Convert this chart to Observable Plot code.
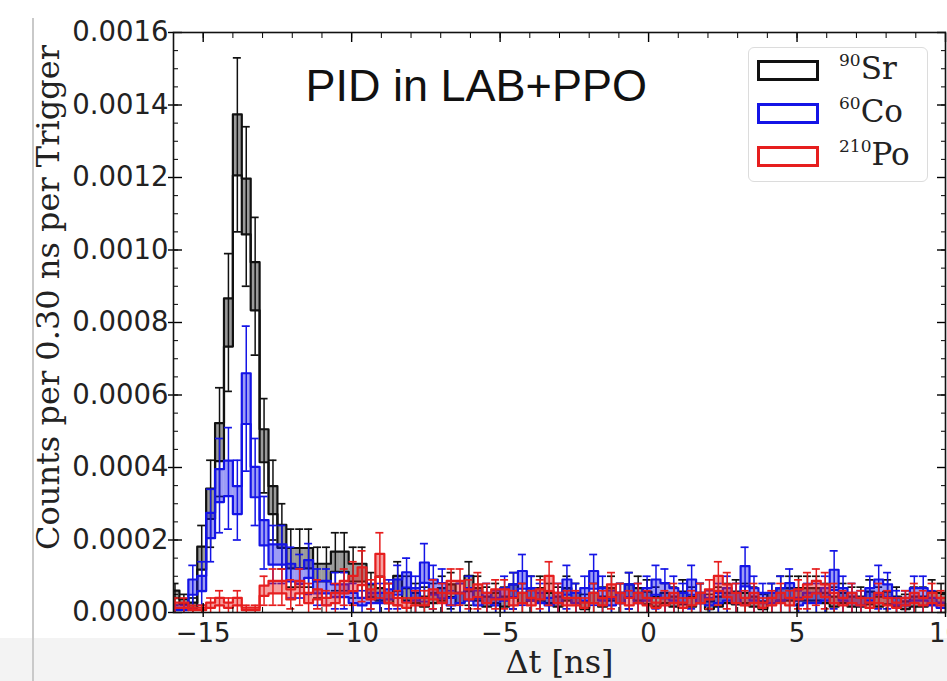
<!DOCTYPE html>
<html><head><meta charset="utf-8">
<script src="https://cdn.jsdelivr.net/npm/d3@7"></script>
<script src="https://cdn.jsdelivr.net/npm/@observablehq/plot@0.6"></script>
<style>
html,body{margin:0;padding:0;background:#fff;}
body{width:947px;height:681px;overflow:hidden;position:relative;}
#band{position:absolute;left:0;top:638px;width:947px;height:43px;background:#f3f3f3;}
#vline{position:absolute;left:32px;top:18px;width:2px;height:663px;background:#c9c9c9;}
#chart{position:absolute;left:0;top:0;}
#legend{position:absolute;left:748px;top:47px;width:180px;height:135px;border:1.5px solid #dcdcdc;border-radius:6px;background:rgba(255,255,255,0.85);box-sizing:border-box;}
.row{position:absolute;left:8px;width:170px;height:40px;}
.sw{position:absolute;left:0;top:0;width:56px;height:15px;border:3px solid;background:#fff;}
.lab{position:absolute;left:82px;top:-7px;font-family:"DejaVu Serif";font-size:31px;line-height:31px;white-space:nowrap;color:#222;}
.lab .sup{font-size:17px;position:relative;top:-13px;}
</style></head>
<body>
<div id="band"></div>
<div id="vline"></div>
<div id="chart"></div>
<div id="legend"></div>
<script>
// ---- data: bin grid (Δt in ns) ----
const binStart = -16.1;
const binWidth = 0.30;

// ---- 90Sr ----
const sr90 = [0.00005,0.00003,0.00002,0.00015,0.00030,0.00047,0.00080,0.00129,0.00112,0.00090,
 0.00046,0.00031,0.00021,0.00015,0.00015,0.00015,0.00011,0.00011,0.00014,0.00014,
 0.00011,0.00011,0.00006,0.00005,0.00004,0.00008,0.00005,0.00004,0.00003,0.00004,
 0.00005,0.00006,0.00004,0.00008,0.00005,0.00003,0.00004,0.00003,0.00006,0.00004,
 0.00005,0.00005,0.00004,0.00003,0.00005,0.00004,0.00002,0.00004,0.00003,0.00005,
 0.00004,0.00006,0.00005,0.00004,0.00003,0.00004,0.00003,0.00004,0.00003,0.00004,
 0.00002,0.00003,0.00004,0.00004,0.00004,0.00003,0.00002,0.00004,0.00005,0.00005,
 0.00005,0.00005,0.00005,0.00004,0.00003,0.00004,0.00003,0.00003,0.00004,0.00003,
 0.00004,0.00003,0.00002,0.00003,0.00003,0.00004,0.00004];
const sr90Err = [0.00003,0.00002,0.00002,0.00009,0.00012,0.00015,0.00019,0.00024,0.00022,0.00019,
 0.00013,0.00011,0.00009,0.00008,0.00008,0.00008,0.00007,0.00007,0.00008,0.00008,
 0.00007,0.00007,0.00005,0.00005,0.00004,0.00006,0.00005,0.00004,0.00004,0.00004,
 0.00005,0.00005,0.00004,0.00006,0.00005,0.00004,0.00004,0.00004,0.00005,0.00004,
 0.00005,0.00005,0.00004,0.00004,0.00005,0.00004,0.00003,0.00004,0.00004,0.00005,
 0.00004,0.00005,0.00005,0.00005,0.00004,0.00004,0.00004,0.00005,0.00004,0.00004,
 0.00003,0.00004,0.00004,0.00005,0.00004,0.00004,0.00003,0.00004,0.00005,0.00005,
 0.00005,0.00005,0.00005,0.00004,0.00004,0.00004,0.00004,0.00004,0.00005,0.00004,
 0.00005,0.00004,0.00003,0.00004,0.00004,0.00005,0.00004];

// ---- 60Co ----
const co60 = [0.00001,0.00001,0.00007,0.00008,0.00024,0.00035,0.00037,0.00031,0.00059,0.00036,
 0.00022,0.00016,0.00016,0.00011,0.00010,0.00012,0.00007,0.00007,0.00006,0.00006,
 0.00004,0.00003,0.00004,0.00004,0.00005,0.00007,0.00009,0.00005,0.00011,0.00007,
 0.00006,0.00003,0.00004,0.00005,0.00003,0.00004,0.00003,0.00005,0.00006,0.00009,
 0.00005,0.00004,0.00003,0.00004,0.00007,0.00004,0.00005,0.00009,0.00005,0.00003,
 0.00004,0.00006,0.00004,0.00005,0.00007,0.00006,0.00005,0.00004,0.00007,0.00004,
 0.00003,0.00004,0.00005,0.00004,0.00010,0.00005,0.00004,0.00004,0.00005,0.00006,
 0.00003,0.00004,0.00004,0.00005,0.00009,0.00005,0.00004,0.00003,0.00005,0.00007,
 0.00006,0.00003,0.00003,0.00005,0.00005,0.00003,0.00002];
const co60Err = [0.00001,0.00001,0.00006,0.00006,0.00010,0.00013,0.00014,0.00011,0.00020,0.00012,
 0.00010,0.00008,0.00008,0.00007,0.00006,0.00007,0.00005,0.00005,0.00005,0.00005,
 0.00004,0.00003,0.00004,0.00004,0.00004,0.00006,0.00006,0.00005,0.00008,0.00006,
 0.00006,0.00003,0.00004,0.00005,0.00003,0.00004,0.00003,0.00005,0.00005,0.00007,
 0.00005,0.00004,0.00003,0.00004,0.00006,0.00004,0.00005,0.00007,0.00005,0.00003,
 0.00004,0.00005,0.00004,0.00005,0.00006,0.00006,0.00005,0.00004,0.00006,0.00004,
 0.00003,0.00004,0.00005,0.00004,0.00008,0.00005,0.00004,0.00004,0.00005,0.00006,
 0.00003,0.00004,0.00004,0.00005,0.00008,0.00005,0.00004,0.00003,0.00005,0.00006,
 0.00005,0.00003,0.00003,0.00005,0.00005,0.00003,0.00002];

// ---- 210Po ----
const po210 = [0.00002,0.00002,0.00001,0.00001,0.00002,0.00003,0.00002,0.00003,0.00001,0.00001,
 0.00006,0.00007,0.00007,0.00005,0.00007,0.00004,0.00005,0.00003,0.00004,0.00007,
 0.00008,0.00010,0.00005,0.00013,0.00004,0.00003,0.00002,0.00003,0.00003,0.00005,
 0.00004,0.00007,0.00007,0.00005,0.00006,0.00004,0.00005,0.00005,0.00003,0.00004,
 0.00003,0.00005,0.00008,0.00004,0.00003,0.00003,0.00002,0.00004,0.00003,0.00006,
 0.00004,0.00003,0.00004,0.00003,0.00002,0.00003,0.00004,0.00002,0.00003,0.00004,
 0.00005,0.00008,0.00006,0.00004,0.00003,0.00004,0.00002,0.00003,0.00004,0.00003,
 0.00005,0.00006,0.00007,0.00006,0.00004,0.00003,0.00004,0.00003,0.00002,0.00004,
 0.00003,0.00002,0.00003,0.00004,0.00003,0.00004,0.00003];
const po210Err = [0.00002,0.00002,0.00001,0.00001,0.00002,0.00003,0.00002,0.00003,0.00001,0.00001,
 0.00004,0.00005,0.00005,0.00004,0.00005,0.00004,0.00004,0.00003,0.00004,0.00005,
 0.00006,0.00007,0.00004,0.00009,0.00004,0.00003,0.00002,0.00003,0.00003,0.00004,
 0.00004,0.00005,0.00005,0.00004,0.00005,0.00004,0.00004,0.00004,0.00003,0.00004,
 0.00003,0.00004,0.00006,0.00004,0.00003,0.00003,0.00002,0.00004,0.00003,0.00005,
 0.00004,0.00003,0.00004,0.00003,0.00002,0.00003,0.00004,0.00002,0.00003,0.00004,
 0.00004,0.00006,0.00005,0.00004,0.00003,0.00004,0.00002,0.00003,0.00004,0.00003,
 0.00004,0.00005,0.00005,0.00005,0.00004,0.00003,0.00004,0.00003,0.00002,0.00004,
 0.00003,0.00002,0.00003,0.00004,0.00003,0.00004,0.00003];

// ---- labels / ticks ----
const seriesNames = ["Sr", "Co", "Po"];
const seriesMass = ["90", "60", "210"];
const seriesColors = ["#111111", "#1414e6", "#e61e1e"];
const xTicks = [-15, -10, -5, 0, 5, 10];
const yTicks = [0, 0.0002, 0.0004, 0.0006, 0.0008, 0.0010, 0.0012, 0.0014, 0.0016];
const title = "PID in LAB+PPO";
const yLabel = "Counts per 0.30 ns per Trigger";
const xLabel = "Δt [ns]";

const xMinor = d3.range(-16, 10.001, 1);
const yMinor = d3.range(0, 32.5, 1).map(i => i * 0.00005);

const valueArrays = [sr90, co60, po210];
const errArrays = [sr90Err, co60Err, po210Err];

function bins(values, errs) {
  return values.map((v, i) => {
    const e = errs[i];
    return {
      x1: binStart + i * binWidth,
      x2: binStart + (i + 1) * binWidth,
      xc: binStart + (i + 0.5) * binWidth,
      v, e,
      lo: v - 0.35 * e,
      hi: v + 0.35 * e
    };
  });
}
function steps(b, key) {
  const pts = b.map(d => ({x: d.x1, y: d[key]}));
  pts.push({x: b[b.length - 1].x2, y: b[b.length - 1][key]});
  return pts;
}

const marks = [];
valueArrays.forEach((vals, s) => {
  const c = seriesColors[s];
  const b = bins(vals, errArrays[s]);
  const cap = binWidth * 0.45;
  marks.push(
    Plot.rectY(b, {x1: "x1", x2: "x2", y1: "lo", y2: "hi", fill: c, fillOpacity: 0.42, clip: true}),
    Plot.ruleX(b, {x: "xc", y1: d => Math.max(0, d.v - d.e), y2: d => d.v + d.e, stroke: c, strokeWidth: 1.5, clip: true}),
    Plot.ruleY(b, {x1: d => d.xc - cap, x2: d => d.xc + cap, y: d => d.v + d.e, stroke: c, strokeWidth: 1.7, clip: true}),
    Plot.ruleY(b.filter(d => d.v - d.e > 0), {x1: d => d.xc - cap, x2: d => d.xc + cap, y: d => d.v - d.e, stroke: c, strokeWidth: 1.7, clip: true}),
    Plot.line(steps(b, "hi"), {x: "x", y: "y", curve: "step-after", stroke: c, strokeWidth: 2.2, clip: true}),
    Plot.line(steps(b, "lo"), {x: "x", y: "y", curve: "step-after", stroke: c, strokeWidth: 2.2, clip: true})
  );
});

const chart = Plot.plot({
  width: 947,
  height: 681,
  marginLeft: 173,
  marginRight: 2,
  marginTop: 32,
  marginBottom: 69,
  style: {background: "transparent", overflow: "visible"},
  x: {domain: [-16, 10]},
  y: {domain: [0, 0.0016]},
  marks: [
    ...marks,
    // major ticks (in-out) and minor ticks (in)
    Plot.axisY(yTicks, {anchor: "left", tickSize: 14, dx: 9, fill: "none", label: null, strokeWidth: 1.4}),
    Plot.axisY(yMinor, {anchor: "left", tickSize: 5, dx: 5, fill: "none", label: null, strokeWidth: 1}),
    Plot.axisY(yTicks, {anchor: "right", tickSize: 9, dx: -9, fill: "none", label: null, strokeWidth: 1.4}),
    Plot.axisY(yMinor, {anchor: "right", tickSize: 5, dx: -5, fill: "none", label: null, strokeWidth: 1}),
    Plot.axisX(xTicks, {anchor: "bottom", tickSize: 14, dy: -9, fill: "none", label: null, strokeWidth: 1.4}),
    Plot.axisX(xMinor, {anchor: "bottom", tickSize: 5, dy: -5, fill: "none", label: null, strokeWidth: 1}),
    Plot.axisX(xTicks, {anchor: "top", tickSize: 9, dy: 9, fill: "none", label: null, strokeWidth: 1.4}),
    Plot.axisX(xMinor, {anchor: "top", tickSize: 5, dy: 5, fill: "none", label: null, strokeWidth: 1}),
    // tick labels
    Plot.axisY(yTicks, {anchor: "left", tickSize: 0, tickPadding: 5, tickFormat: d3.format(".4f"), label: null, fontSize: 27.5, fontFamily: "DejaVu Sans", fill: "#222"}),
    Plot.axisX(xTicks, {anchor: "bottom", tickSize: 0, tickPadding: 11, label: null, fontSize: 26, fontFamily: "DejaVu Sans", fill: "#222"}),
    Plot.frame({stroke: "#111", strokeWidth: 1.6}),
    // titles
    Plot.text([title], {frameAnchor: "top-left", dx: 132, dy: 68, textAnchor: "start", lineAnchor: "bottom", fontSize: 45, fontFamily: "Liberation Sans", fill: "#111"}),
    Plot.text([yLabel], {frameAnchor: "left", dx: -125, dy: -25, rotate: -90, textAnchor: "middle", lineAnchor: "middle", fontSize: 32, fontFamily: "DejaVu Serif", fill: "#222"}),
    Plot.text([xLabel], {frameAnchor: "bottom", dy: 60, lineAnchor: "bottom", fontSize: 32, fontFamily: "DejaVu Serif", fill: "#222"})
  ]
});
document.getElementById("chart").appendChild(chart);

// legend
const legend = document.getElementById("legend");
seriesNames.forEach((name, i) => {
  const row = document.createElement("div");
  row.className = "row";
  row.style.top = (12 + 43 * i) + "px";
  const sw = document.createElement("div");
  sw.className = "sw";
  sw.style.borderColor = seriesColors[i];
  const lab = document.createElement("div");
  lab.className = "lab";
  const sup = document.createElement("span");
  sup.className = "sup";
  sup.textContent = seriesMass[i];
  lab.appendChild(sup);
  lab.appendChild(document.createTextNode(name));
  row.appendChild(sw);
  row.appendChild(lab);
  legend.appendChild(row);
});
</script>
</body></html>
